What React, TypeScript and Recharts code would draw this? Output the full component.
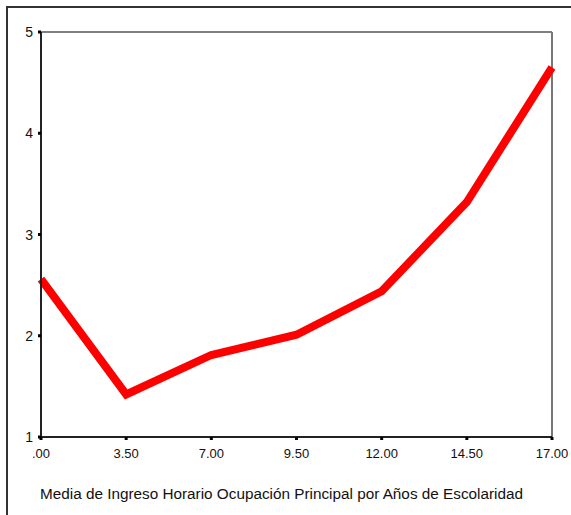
import { LineChart, Line, XAxis, YAxis, ReferenceLine } from 'recharts';

const categories = ['.00', '3.50', '7.00', '9.50', '12.00', '14.50', '17.00'];
const meanIncome = [2.56, 1.42, 1.81, 2.01, 2.44, 3.32, 4.65];
const yTicks = [1, 2, 3, 4, 5];

const data = categories.map((c, i) => ({ years: c, income: meanIncome[i] }));

const font = 'Liberation Sans, Arial, sans-serif';

const renderXTick = (props: any) => {
  const { x, y, payload, index } = props;
  return (
    <text key={`xt-${index}`} x={x} y={y + 16} textAnchor="middle" fontFamily={font} fontSize={13} fill="#111">
      {payload.value}
    </text>
  );
};

const renderYTick = (props: any) => {
  const { x, y, payload, index } = props;
  return (
    <text key={`yt-${index}`} x={x - 3} y={y + 5} textAnchor="end" fontFamily={font} fontSize={14} fill="#111">
      {payload.value}
    </text>
  );
};

const App = () => {
  return (
    <div
      style={{
        position: 'absolute',
        left: 0,
        top: 0,
        width: 571,
        height: 515,
        overflow: 'hidden',
        background: '#fff',
        fontFamily: font
      }}
    >
      <div
        style={{
          position: 'absolute',
          left: 6,
          top: 6,
          width: 580,
          height: 540,
          border: '2px solid #333',
          boxSizing: 'border-box'
        }}
      />
      <div style={{ position: 'absolute', left: 0, top: 0 }}>
        <LineChart width={571} height={515} data={data} margin={{ top: 32, right: 19, left: 11, bottom: 48 }}>
          <XAxis
            dataKey="years"
            height={30}
            interval={0}
            tickSize={3}
            axisLine={{ stroke: '#222', strokeWidth: 2 }}
            tickLine={{ stroke: '#000', strokeWidth: 3 }}
            tick={renderXTick}
          />
          <YAxis
            domain={[1, 5]}
            ticks={yTicks}
            width={30}
            tickSize={3}
            axisLine={{ stroke: '#222', strokeWidth: 2 }}
            tickLine={{ stroke: '#000', strokeWidth: 3 }}
            tick={renderYTick}
          />
          <ReferenceLine y={5} stroke="#555" strokeWidth={1.5} />
          <ReferenceLine x="17.00" stroke="#777" strokeWidth={2} />
          <Line
            type="linear"
            dataKey="income"
            stroke="#ff0000"
            strokeWidth={8}
            strokeLinejoin="miter"
            dot={false}
            isAnimationActive={false}
          />
        </LineChart>
      </div>
      <div
        style={{
          position: 'absolute',
          left: 40,
          top: 485,
          fontSize: 15.3,
          color: '#111',
          whiteSpace: 'nowrap'
        }}
      >
        Media de Ingreso Horario Ocupación Principal por Años de Escolaridad
      </div>
    </div>
  );
};

export default App;
